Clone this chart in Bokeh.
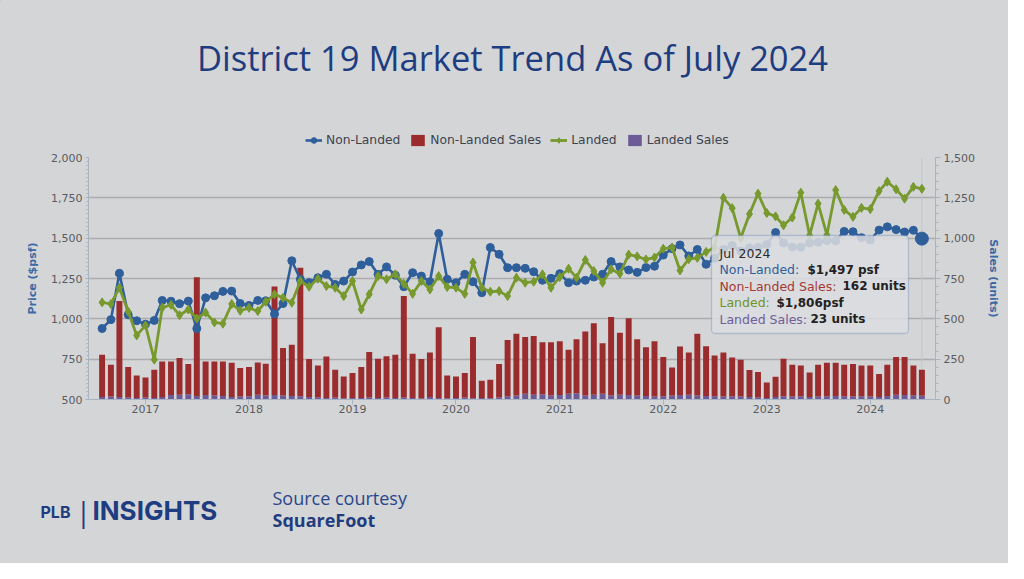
import pandas as pd
from bokeh.plotting import figure
from bokeh.layouts import column, row
from bokeh.models import (ColumnDataSource, Range1d, LinearAxis, FixedTicker,
                          NumeralTickFormatter, DatetimeTickFormatter, Legend,
                          LegendItem, Label, BoxAnnotation, Span)
from bokeh.embed import file_html
from bokeh.resources import INLINE

# ---------------- data ----------------
START_MONTH = "2016-08-01"   # first month shown (monthly series, Aug 2016 - Jul 2024)

non_landed_psf = [
    940, 995, 1282, 1025, 988, 967, 990, 1114, 1109, 1094, 1110, 940,
    1130, 1143, 1170, 1172, 1095, 1083, 1114, 1112, 1030, 1095, 1360, 1245,
    1225, 1255, 1276, 1213, 1234, 1290, 1334, 1355, 1276, 1322, 1270, 1199,
    1286, 1265, 1230, 1529, 1245, 1224, 1276, 1230, 1162, 1442, 1400, 1317,
    1317, 1313, 1292, 1239, 1251, 1280, 1224, 1234, 1239, 1259, 1276, 1355,
    1322, 1303, 1288, 1318, 1326, 1395, 1435, 1458, 1390, 1430, 1338, 1375,
    1430, 1455, 1420, 1440, 1444, 1461, 1535, 1470, 1445, 1444, 1470, 1475,
    1485, 1483, 1542, 1540, 1503, 1488, 1550, 1570, 1553, 1538, 1549, 1497,
]
landed_psf = [
    1102, 1092, 1193, 1045, 897, 959, 747, 1069, 1087, 1022, 1058, 1002,
    1039, 978, 970, 1092, 1050, 1068, 1048, 1106, 1152, 1130, 1100, 1234,
    1199, 1249, 1203, 1193, 1141, 1234, 1058, 1152, 1265, 1245, 1276, 1218,
    1155, 1234, 1182, 1265, 1197, 1193, 1155, 1349, 1193, 1168, 1172, 1141,
    1255, 1224, 1230, 1276, 1193, 1259, 1311, 1255, 1365, 1296, 1224, 1307,
    1280, 1398, 1387, 1368, 1380, 1435, 1442, 1300, 1370, 1378, 1415, 1440,
    1750, 1686, 1500, 1650, 1776, 1656, 1635, 1580, 1628, 1782, 1518, 1714,
    1520, 1798, 1675, 1632, 1688, 1680, 1792, 1850, 1803, 1745, 1818, 1806,
]
non_landed_sales = [
    263, 198, 595, 189, 139, 125, 174, 221, 208, 228, 188, 736,
    208, 211, 214, 213, 178, 181, 200, 197, 673, 294, 318, 797,
    236, 198, 256, 173, 135, 154, 191, 282, 243, 256, 268, 629,
    274, 243, 277, 438, 141, 133, 152, 380, 106, 114, 208, 349,
    382, 353, 364, 323, 330, 333, 274, 335, 396, 443, 314, 487,
    383, 476, 348, 302, 343, 243, 174, 300, 262, 382, 308, 252,
    274, 241, 229, 168, 158, 96, 126, 233, 198, 190, 153, 198,
    208, 206, 196, 202, 190, 192, 143, 194, 233, 235, 185, 162,
]
landed_sales = [
    15, 18, 15, 12, 10, 12, 10, 15, 28, 30, 32, 22,
    28, 25, 22, 15, 18, 20, 30, 25, 28, 25, 22, 20,
    15, 12, 10, 12, 8, 10, 10, 12, 10, 12, 10, 12,
    10, 8, 15, 10, 8, 10, 12, 8, 10, 8, 12, 20,
    25, 35, 30, 32, 25, 28, 35, 38, 25, 30, 35, 25,
    30, 28, 25, 22, 18, 20, 25, 28, 30, 25, 22, 20,
    18, 20, 18, 15, 12, 10, 15, 20, 18, 20, 15, 18,
    20, 22, 20, 18, 20, 18, 15, 22, 30, 28, 25, 23,
]
YEAR_TICKS = ["2017", "2018", "2019", "2020", "2021", "2022", "2023", "2024"]
PRICE_TICKS = [500, 750, 1000, 1250, 1500, 1750, 2000]
SALES_TICKS = [0, 250, 500, 750, 1000, 1250, 1500]
SERIES = ["Non-Landed", "Non-Landed Sales", "Landed", "Landed Sales"]
TITLE = "District 19 Market Trend As of July 2024"

# ---------------- styling ----------------
BG = "#d4d5d7"
BLUE = "#2f5f9b"
RED = "#9b2c2d"
GREEN = "#77992e"
PURPLE = "#6c5b96"
NAVY = "#1e3c80"
GRID = "#abacaf"
AXIS = "#a9b3c2"
TICKTXT = "#595c61"
FONT = "DejaVu Sans"
W = 1008
HEAD_H, MAIN_H, FOOT_H = 148, 275, 140


def blank(height, y_top):
    f = figure(width=W, height=height, output_backend="svg", toolbar_location=None,
               title_location=None, x_axis_location=None, y_axis_location=None,
               x_range=Range1d(0, W), y_range=Range1d(y_top + height, y_top),
               min_border=0)
    f.min_border_left = f.min_border_right = 0
    f.min_border_top = f.min_border_bottom = 0
    f.background_fill_color = BG
    f.border_fill_color = BG
    f.outline_line_color = None
    f.xgrid.visible = False
    f.ygrid.visible = False
    return f


def lab(fig, x, y, text, color, size="12.5px", style="normal", font=FONT,
        align="left", units="data"):
    fig.add_layout(Label(x=x, y=y, x_units=units, y_units=units, text=text,
                         text_color=color, text_font=font, text_font_size=size,
                         text_font_style=style, text_align=align,
                         text_baseline="middle"))


# ---------------- header: title + legend ----------------
head = blank(HEAD_H, 0)
lab(head, 512, 57, TITLE, NAVY, size="34.5px", font="Open Sans", align="center")
# legend proxies: one point each, placed outside the visible range of the header
OFF = [-100]
lg_nl_line = head.line(x=OFF, y=OFF, color=BLUE, line_width=2.6)
lg_nl_pts = head.scatter(x=OFF, y=OFF, marker="circle", size=8, color=BLUE)
lg_nls = head.vbar(x=OFF, top=OFF, bottom=OFF, width=1, color=RED, line_color=None)
lg_l_line = head.line(x=OFF, y=OFF, color=GREEN, line_width=2.8)
lg_l_pts = head.scatter(x=OFF, y=OFF, marker="diamond", size=9, color=GREEN)
lg_ls = head.vbar(x=OFF, top=OFF, bottom=OFF, width=1, color=PURPLE, line_color=None)
legend = Legend(items=[
    LegendItem(label=SERIES[0], renderers=[lg_nl_line, lg_nl_pts]),
    LegendItem(label=SERIES[1], renderers=[lg_nls]),
    LegendItem(label=SERIES[2], renderers=[lg_l_line, lg_l_pts]),
    LegendItem(label=SERIES[3], renderers=[lg_ls]),
], location=(305, 1), orientation="horizontal")
legend.background_fill_alpha = 0
legend.border_line_color = None
legend.padding = 0
legend.margin = 0
legend.spacing = 9
legend.label_standoff = 4
legend.glyph_width = 17
legend.glyph_height = 14
legend.label_text_font = FONT
legend.label_text_font_size = "12.3px"
legend.label_text_color = "#3d4450"
legend.label_height = 14
head.add_layout(legend, "center")

# ---------------- main chart ----------------
months = pd.date_range(START_MONTH, periods=len(non_landed_psf), freq="MS")
src = ColumnDataSource(dict(month=months, nl=non_landed_psf, l=landed_psf,
                            nls=non_landed_sales, ls=landed_sales))

p = figure(width=W, height=MAIN_H, x_axis_type="datetime",
           output_backend="svg", toolbar_location=None, title_location=None,
           x_range=Range1d(pd.Timestamp("2016-06-14"), pd.Timestamp("2024-08-18")),
           y_range=Range1d(PRICE_TICKS[0], PRICE_TICKS[-1]),
           min_border_left=88, min_border_right=73,
           min_border_top=9, min_border_bottom=24)
p.extra_y_ranges = {"sales": Range1d(SALES_TICKS[0], SALES_TICKS[-1])}
p.background_fill_color = BG
p.border_fill_color = BG
p.outline_line_color = None

p.xgrid.grid_line_color = None
p.ygrid.ticker = FixedTicker(ticks=PRICE_TICKS)
p.ygrid.grid_line_color = GRID
p.ygrid.grid_line_width = 1.3

xa = p.xaxis[0]
year_ms = [pd.Timestamp(f"{y}-01-01").value // 10**6 for y in YEAR_TICKS]
xa.ticker = FixedTicker(ticks=year_ms)
xa.formatter = DatetimeTickFormatter(years="%Y", months="%Y", days="%Y",
                                     hours="%Y", minutes="%Y", seconds="%Y")
xa.axis_line_color = AXIS
xa.major_tick_line_color = AXIS
xa.major_tick_out = 5
xa.major_tick_in = 0
xa.minor_tick_line_color = None
xa.major_label_standoff = 0
xa.major_label_text_font = FONT
xa.major_label_text_font_size = "11px"
xa.major_label_text_color = TICKTXT

ya = p.yaxis[0]
ya.ticker = FixedTicker(ticks=PRICE_TICKS,
                        minor_ticks=list(range(PRICE_TICKS[0], PRICE_TICKS[-1] + 1, 25)))
ya.formatter = NumeralTickFormatter(format="0,0")
ya.axis_line_color = AXIS
ya.major_tick_line_color = AXIS
ya.major_tick_out = 3
ya.major_tick_in = 0
ya.minor_tick_line_color = AXIS
ya.minor_tick_out = 2
ya.minor_tick_in = 0
ya.major_label_standoff = 3
ya.major_label_text_font = FONT
ya.major_label_text_font_size = "11px"
ya.major_label_text_color = TICKTXT
ya.axis_label = "Price ($psf)"
ya.axis_label_text_font = FONT
ya.axis_label_text_font_size = "11px"
ya.axis_label_text_font_style = "bold"
ya.axis_label_text_color = "#3a69a6"
ya.axis_label_standoff = 9

ra = LinearAxis(y_range_name="sales",
                ticker=FixedTicker(ticks=SALES_TICKS,
                                   minor_ticks=list(range(SALES_TICKS[0], SALES_TICKS[-1] + 1, 50))),
                formatter=NumeralTickFormatter(format="0,0"))
ra.axis_line_color = AXIS
ra.major_tick_line_color = AXIS
ra.major_tick_out = 5
ra.major_tick_in = 0
ra.minor_tick_line_color = AXIS
ra.minor_tick_out = 3
ra.minor_tick_in = 0
ra.major_label_standoff = 3
ra.major_label_text_font = FONT
ra.major_label_text_font_size = "11px"
ra.major_label_text_color = TICKTXT
ra.axis_label = "Sales (units)"
ra.axis_label_text_font = FONT
ra.axis_label_text_font_size = "11px"
ra.axis_label_text_font_style = "bold"
ra.axis_label_text_color = "#3a69a6"
ra.axis_label_standoff = 9
p.add_layout(ra, "right")

# hover crosshair at the latest month
p.add_layout(Span(location=months[-1].value // 10**6, dimension="height",
                  line_color="#c2c6cc", line_width=1, level="underlay"))

bar_w = 21 * 24 * 3600 * 1000
bars = p.vbar_stack(["ls", "nls"], x="month", width=bar_w, color=[PURPLE, RED],
                    line_color=None, source=src, y_range_name="sales")

p.line("month", "nl", source=src, color=BLUE, line_width=2.6)
p.scatter("month", "nl", source=src, marker="circle", size=8,
          color=BLUE, line_color=BLUE)
p.line("month", "l", source=src, color=GREEN, line_width=2.8)
p.scatter("month", "l", source=src, marker="diamond", size=9,
          color=GREEN, line_color=GREEN)
# hovered point
p.scatter(x=[months[-1]], y=[non_landed_psf[-1]], marker="circle", size=13,
          color=BLUE, line_color=BLUE)

# tooltip for the latest month (screen units relative to the plot frame)
p.add_layout(BoxAnnotation(left=623, right=820, top=164, bottom=66,
                           left_units="screen", right_units="screen",
                           top_units="screen", bottom_units="screen",
                           fill_color="#dcdde0", fill_alpha=0.85,
                           line_color="#4b75ab", line_width=1.3,
                           border_radius=4, level="annotation"))
tx = 631
lab(p, tx, 146.5, months[-1].strftime("%b %Y"), "#2b2b2b", units="screen")
lab(p, tx, 130, f"{SERIES[0]}:", BLUE, units="screen")
lab(p, 719, 130, f"${non_landed_psf[-1]:,} psf", "#222222", size="12px",
    style="bold", units="screen")
lab(p, tx, 113.5, f"{SERIES[1]}:", "#a33a35", units="screen")
lab(p, 754, 113.5, f"{non_landed_sales[-1]} units", "#222222", size="12px",
    style="bold", units="screen")
lab(p, tx, 97, f"{SERIES[2]}:", "#6f9426", units="screen")
lab(p, 688, 97, f"${landed_psf[-1]:,}psf", "#222222", size="12px",
    style="bold", units="screen")
lab(p, tx, 80.5, f"{SERIES[3]}:", "#6f5f9a", units="screen")
lab(p, 722, 80.5, f"{landed_sales[-1]} units", "#222222", size="12px",
    style="bold", units="screen")

# ---------------- footer ----------------
foot_top = HEAD_H + MAIN_H
foot = blank(FOOT_H, foot_top)
lab(foot, 40, 511, "PLB", NAVY, size="16px", style="bold", font="Inter")
lab(foot, 83, 510, "|", NAVY, size="28px", font="Open Sans", align="center")
lab(foot, 92, 510, "INSIGHTS", NAVY, size="26px", style="bold", font="Inter")
lab(foot, 272, 497, "Source courtesy", "#28478a", size="18px", font="Open Sans")
lab(foot, 272, 519, "SquareFoot", "#1f3d7e", size="18px", style="bold", font="Open Sans")

page = column(head, row(p), foot, spacing=0)
page.background = BG
open("out.html", "w").write(file_html(page, INLINE))
